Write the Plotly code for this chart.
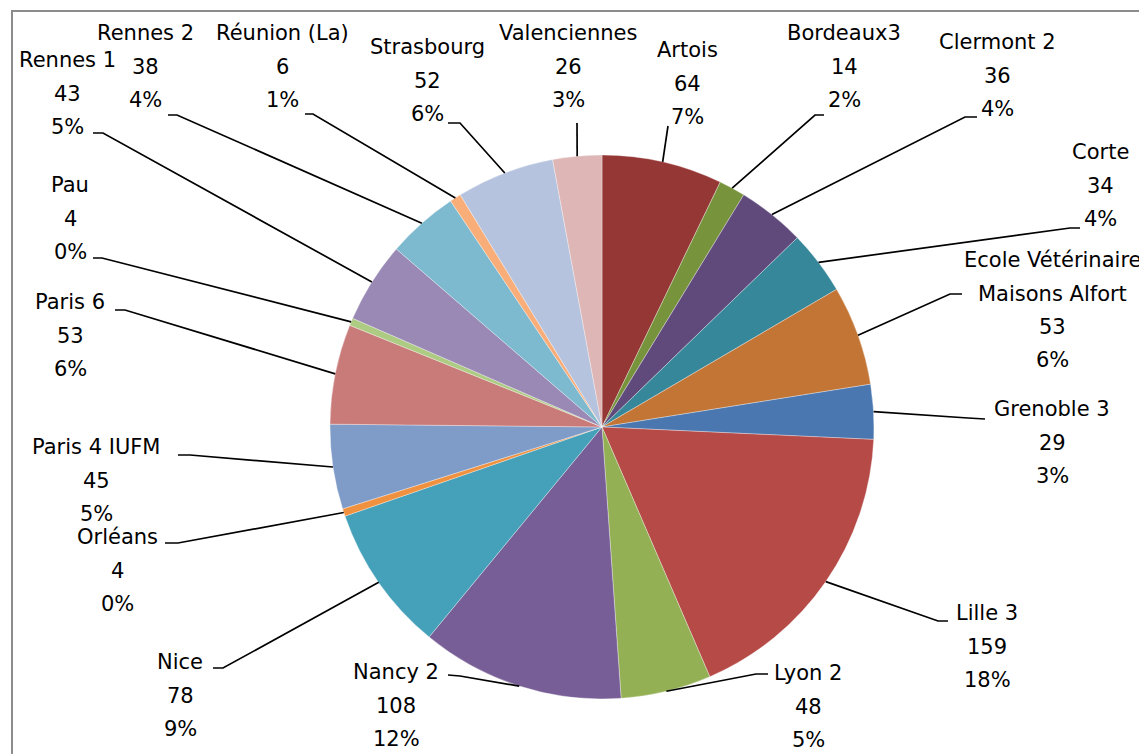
import math
import plotly.graph_objects as go

# ---------------- data ----------------
labels = ["Artois", "Bordeaux3", "Clermont 2", "Corte",
          "Ecole Vétérinaire Maisons Alfort", "Grenoble 3", "Lille 3", "Lyon 2",
          "Nancy 2", "Nice", "Orléans", "Paris 4 IUFM", "Paris 6", "Pau",
          "Rennes 1", "Rennes 2", "Réunion (La)", "Strasbourg", "Valenciennes"]
values = [64, 14, 36, 34, 53, 29, 159, 48, 108, 78, 4, 45, 53, 4, 43, 38, 6, 52, 26]
display_names = ["Artois", "Bordeaux3", "Clermont 2", "Corte",
                 "Ecole Vétérinaire|Maisons Alfort", "Grenoble 3", "Lille 3", "Lyon 2",
                 "Nancy 2", "Nice", "Orléans", "Paris 4 IUFM", "Paris 6", "Pau",
                 "Rennes 1", "Rennes 2", "Réunion (La)", "Strasbourg", "Valenciennes"]
colors = ["#953735", "#77933C", "#604A7B", "#37879A", "#C27535", "#4A77B0",
          "#B54A47", "#94B055", "#785E96", "#45A1BA", "#F0913F", "#7F9BC8",
          "#C97B7A", "#AECB84", "#9A89B4", "#7DB9CF", "#F9AE7A", "#B5C3DE",
          "#DEB6B6"]

# ---------------- layout (window pixels) ----------------
W, H = 1147, 754
OFF = 8  # page body margin of the html page
FW, FH = W - OFF, H - OFF
CX, CY, R = 602, 427, 272
# label centre x, and y of first text line
label_pos = [(688, 50), (844, 33), (997, 42), (1100, 152), (1052, 260),
             (1052, 409), (987, 613), (808, 673), (396, 672), (180, 662),
             (117, 537), (96, 447), (70, 302), (70, 185), (67, 60),
             (145, 33), (282, 33), (427, 47), (568, 33)]
LINE_PITCH = 33.5
# leader: label-side point and elbow point (None = straight line)
leader_a = [(668, 126), (824, 115), (977, 117), (1080, 228), (962, 294),
            (985, 419), (948, 621), (768, 674), (448, 675), (213, 668),
            (165, 543), (178, 455), (115, 310), (93, 258), (93, 133),
            (168, 115), (305, 114), (448, 123), (577, 123)]
leader_b = [None, (815, 115), (965, 117), (1070, 228), (950, 294),
            (968, 418), (938, 621), (756, 674), (460, 676), (223, 668),
            (178, 543), (190, 455), (125, 310), (102, 258), (103, 133),
            (177, 115), (313, 114), (460, 123), None]


def px(x):
    return (x - OFF) / FW


def py(y):
    return 1 - (y - OFF) / FH


FONT = dict(family="DejaVu Sans, Open Sans, sans-serif", size=21, color="#000000")

fig = go.Figure(go.Pie(
    labels=labels,
    values=values,
    sort=False,
    direction="clockwise",
    rotation=0,
    marker=dict(colors=colors, line=dict(color="rgba(255,255,255,0.55)", width=0.6)),
    textinfo="none",
    hoverinfo="label+value+percent",
    showlegend=False,
    domain=dict(x=[px(CX - R), px(CX + R)], y=[py(CY + R), py(CY - R)]),
))

total = sum(values)
annotations = []
shapes = []
cum = 0
for i, (lab, v) in enumerate(zip(display_names, values)):
    mid = (cum + v / 2) / total * 2 * math.pi
    cum += v
    ex = CX + R * math.sin(mid)
    ey = CY - R * math.cos(mid)
    pct = round(v / total * 100)
    lines = lab.split("|") + [str(v), f"{pct}%"]
    lx, ly = label_pos[i]
    for k, t in enumerate(lines):
        annotations.append(dict(
            x=px(lx), y=py(ly + k * LINE_PITCH), xref="paper", yref="paper",
            text=t, showarrow=False, xanchor="center", yanchor="middle",
            font=FONT))
    ax, ay = leader_a[i]
    path = f"M {px(ax)},{py(ay)}"
    if leader_b[i] is not None:
        bx, by = leader_b[i]
        path += f" L {px(bx)},{py(by)}"
    path += f" L {px(ex)},{py(ey)}"
    shapes.append(dict(type="path", path=path, xref="paper", yref="paper",
                       line=dict(color="#000000", width=1.7)))

# outer chart frame
shapes.append(dict(type="rect", xref="paper", yref="paper",
                   x0=px(12), y0=-0.02, x1=1.02, y1=py(11),
                   line=dict(color="#8C8C8C", width=2), fillcolor="rgba(0,0,0,0)",
                   layer="below"))

fig.update_layout(
    width=FW, height=FH,
    margin=dict(l=0, r=0, t=0, b=0),
    paper_bgcolor="#FFFFFF",
    plot_bgcolor="#FFFFFF",
    annotations=annotations,
    shapes=shapes,
)

fig.write_html("out.html")
